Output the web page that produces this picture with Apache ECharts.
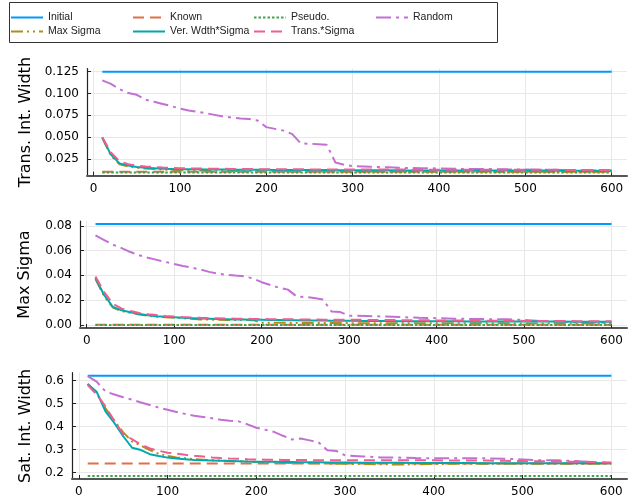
<!DOCTYPE html>
<html>
<head>
<meta charset="utf-8">
<script src="https://cdn.jsdelivr.net/npm/echarts@6/dist/echarts.min.js"></script>
<style>
  html, body { margin: 0; padding: 0; background: #fff; }
  #chart { width: 639px; height: 498px; }
</style>
</head>
<body>
<div id="chart"></div>
<script>
// budget steps (shared x values)
const steps = [10, 20, 30, 40, 50, 60, 70, 80, 90, 100, 110, 120, 130, 140, 150, 160, 170, 180, 190, 200,
  210, 220, 230, 240, 250, 260, 270, 280, 290, 300, 320, 340, 360, 380, 400, 420, 440, 460, 480, 500,
  520, 540, 560, 580, 600];

// constant series, one level per panel
const initialLevel = [0.125, 0.0814, 0.6216];
const knownLevel = [0.0105, 0.0002, 0.239];
const pseudoLevel = [0.0095, 0.0, 0.185];

// panel 1: Trans. Int. Width
const random1 = [0.115, 0.111, 0.105, 0.1005, 0.0985, 0.093, 0.0905, 0.088, 0.0855, 0.0828, 0.0805, 0.079, 0.0775, 0.0755, 0.0735, 0.0725, 0.0715, 0.0708, 0.069, 0.0615,
  0.0595, 0.0575, 0.0535, 0.0428, 0.0425, 0.042, 0.0412, 0.021, 0.0185, 0.0168, 0.0162, 0.0155, 0.0148, 0.0145, 0.0142, 0.0138, 0.0135, 0.0135, 0.0132, 0.013,
  0.0128, 0.0125, 0.0122, 0.012, 0.0118];
const maxSigma1 = [0.049, 0.029, 0.019, 0.0165, 0.015, 0.0142, 0.0135, 0.013, 0.0126, 0.0122, 0.012, 0.0118, 0.0116, 0.0115, 0.0114, 0.0113, 0.0112, 0.0112, 0.0111, 0.011,
  0.011, 0.011, 0.0109, 0.0109, 0.0109, 0.0108, 0.0108, 0.0108, 0.0108, 0.0107, 0.0107, 0.0107, 0.0107, 0.0106, 0.0106, 0.0106, 0.0106, 0.0106, 0.0105, 0.0105,
  0.0105, 0.0105, 0.0105, 0.0104, 0.0104];
const verWidth1 = [0.0497, 0.030, 0.020, 0.0175, 0.0158, 0.015, 0.0145, 0.014, 0.0137, 0.0134, 0.0133, 0.0132, 0.0131, 0.013, 0.0129, 0.0128, 0.0128, 0.0127, 0.0127, 0.0126,
  0.0125, 0.0125, 0.0124, 0.0124, 0.0123, 0.0123, 0.0123, 0.0122, 0.0122, 0.0122, 0.0121, 0.0121, 0.012, 0.012, 0.012, 0.0119, 0.0119, 0.0119, 0.0118, 0.0118,
  0.0118, 0.0117, 0.0117, 0.0117, 0.0116];
const transSigma1 = [0.050, 0.0325, 0.0225, 0.019, 0.0175, 0.0165, 0.0158, 0.0152, 0.0148, 0.0145, 0.0143, 0.0141, 0.014, 0.0139, 0.0138, 0.0137, 0.0136, 0.0135, 0.0134, 0.0134,
  0.0133, 0.0133, 0.0132, 0.0132, 0.0131, 0.0131, 0.0131, 0.013, 0.013, 0.013, 0.0129, 0.0129, 0.0129, 0.0128, 0.0128, 0.0128, 0.0127, 0.0127, 0.0127, 0.0126,
  0.0126, 0.0126, 0.0125, 0.0125, 0.0125];

// panel 2: Max Sigma
const random2 = [0.0723, 0.0685, 0.0647, 0.062, 0.0588, 0.0562, 0.0542, 0.0525, 0.0508, 0.0492, 0.0476, 0.0462, 0.0447, 0.0428, 0.0413, 0.0405, 0.0398, 0.0393, 0.0375, 0.0345,
  0.0322, 0.030, 0.0285, 0.023, 0.0225, 0.0218, 0.0205, 0.0108, 0.0104, 0.0075, 0.0072, 0.0068, 0.0063, 0.0058, 0.0055, 0.0051, 0.0048, 0.0047, 0.0046, 0.004,
  0.0032, 0.0026, 0.0022, 0.002, 0.0018];
const maxSigma2 = [0.037, 0.023, 0.014, 0.0112, 0.0098, 0.0084, 0.0074, 0.0067, 0.0062, 0.0058, 0.0054, 0.005, 0.0045, 0.0043, 0.0042, 0.0041, 0.004, 0.004, 0.0039, 0.0018,
  0.0018, 0.0017, 0.0017, 0.0016, 0.0016, 0.0016, 0.0015, 0.0015, 0.0015, 0.0015, 0.0014, 0.0014, 0.0014, 0.0014, 0.0013, 0.0013, 0.0013, 0.0013, 0.0013, 0.0012,
  0.0012, 0.0012, 0.0012, 0.0012, 0.0012];
const verWidth2 = [0.0379, 0.024, 0.0145, 0.0118, 0.0103, 0.0088, 0.0078, 0.0071, 0.0066, 0.0062, 0.0058, 0.0055, 0.0052, 0.005, 0.0048, 0.0047, 0.0045, 0.0044, 0.0043, 0.0042,
  0.0041, 0.004, 0.0039, 0.0038, 0.0037, 0.0036, 0.0036, 0.0035, 0.0035, 0.0034, 0.0033, 0.0032, 0.0031, 0.0031, 0.003, 0.003, 0.0029, 0.0029, 0.0028, 0.0028,
  0.0027, 0.0027, 0.0026, 0.0026, 0.0025];
const transSigma2 = [0.039, 0.0265, 0.017, 0.0132, 0.0112, 0.0097, 0.0087, 0.008, 0.0073, 0.0068, 0.0064, 0.0061, 0.0058, 0.0056, 0.0054, 0.0052, 0.0051, 0.005, 0.0049, 0.0048,
  0.0047, 0.0046, 0.0046, 0.0045, 0.0044, 0.0044, 0.0043, 0.0043, 0.0042, 0.0042, 0.0041, 0.004, 0.0039, 0.0038, 0.0037, 0.0036, 0.0035, 0.0035, 0.0034, 0.0033,
  0.0033, 0.0032, 0.0031, 0.0031, 0.003];

// panel 3: Sat. Int. Width
const random3 = [0.620, 0.596, 0.553, 0.540, 0.528, 0.517, 0.505, 0.494, 0.483, 0.473, 0.464, 0.455, 0.447, 0.442, 0.436, 0.430, 0.426, 0.423, 0.410, 0.395,
  0.386, 0.377, 0.360, 0.344, 0.348, 0.340, 0.332, 0.297, 0.294, 0.275, 0.270, 0.266, 0.265, 0.263, 0.262, 0.262, 0.262, 0.262, 0.260, 0.257,
  0.253, 0.253, 0.250, 0.245, 0.240];
const maxSigma3 = [0.586, 0.545, 0.480, 0.425, 0.375, 0.335, 0.318, 0.298, 0.282, 0.272, 0.266, 0.262, 0.258, 0.256, 0.254, 0.252, 0.250, 0.249, 0.248, 0.246,
  0.245, 0.244, 0.243, 0.242, 0.241, 0.240, 0.240, 0.239, 0.238, 0.238, 0.237, 0.236, 0.235, 0.236, 0.237, 0.238, 0.238, 0.238, 0.238, 0.238,
  0.238, 0.238, 0.238, 0.238, 0.238];
const verWidth3 = [0.586, 0.552, 0.466, 0.416, 0.358, 0.308, 0.298, 0.280, 0.272, 0.265, 0.261, 0.258, 0.255, 0.253, 0.252, 0.251, 0.250, 0.249, 0.248, 0.2475,
  0.247, 0.247, 0.246, 0.246, 0.245, 0.245, 0.245, 0.244, 0.244, 0.244, 0.243, 0.243, 0.243, 0.242, 0.242, 0.242, 0.242, 0.241, 0.241, 0.241,
  0.241, 0.240, 0.240, 0.240, 0.240];
const transSigma3 = [0.581, 0.540, 0.488, 0.425, 0.367, 0.345, 0.322, 0.305, 0.295, 0.2865, 0.282, 0.277, 0.273, 0.270, 0.266, 0.263, 0.261, 0.260, 0.258, 0.257,
  0.256, 0.256, 0.255, 0.255, 0.255, 0.254, 0.254, 0.254, 0.253, 0.253, 0.253, 0.253, 0.253, 0.253, 0.253, 0.252, 0.252, 0.252, 0.251, 0.250,
  0.249, 0.248, 0.247, 0.246, 0.244];

const xTicks = [0, 100, 200, 300, 400, 500, 600];
const yTicks = [
  [0.025, 0.05, 0.075, 0.1, 0.125],
  [0, 0.02, 0.04, 0.06, 0.08],
  [0.2, 0.3, 0.4, 0.5, 0.6]
];
const yDigits = [3, 2, 1];
const yTitles = ['Trans. Int. Width', 'Max Sigma', 'Sat. Int. Width'];

const names = ['Initial', 'Known', 'Pseudo.', 'Random', 'Max Sigma', 'Ver. Wdth*Sigma', 'Trans.*Sigma'];
const colors = ['#009AFA', '#E26F46', '#3EA44E', '#C271D2', '#AC8E18', '#00A9AD', '#ED5E93'];
const dashes = ['solid', [11, 6], [2.5, 2], [15, 5, 3, 5], [12, 4, 2, 4, 2, 4], 'solid', [11, 6]];

const panelCurves = [
  [random1, maxSigma1, verWidth1, transSigma1],
  [random2, maxSigma2, verWidth2, transSigma2],
  [random3, maxSigma3, verWidth3, transSigma3]
];

const gridTop = [68.6, 221, 372.7];
const gridLeft = [87, 80, 72];
const nameGaps = [51, 47, 38];
const tickFont = 'DejaVu Sans';

var myChart = echarts.init(document.getElementById('chart'));

var grids = [], xAxes = [], yAxes = [], series = [];
for (let p = 0; p < 3; p++) {
  let all = [initialLevel[p], knownLevel[p], pseudoLevel[p]];
  panelCurves[p].forEach(a => { all = all.concat(a); });
  let lo = Math.min.apply(null, all), hi = Math.max.apply(null, all);
  let pad = 0.03 * (hi - lo);

  grids.push({ left: gridLeft[p], right: 12, top: gridTop[p], height: 107, containLabel: false });
  xAxes.push({
    type: 'value', gridIndex: p, min: -7.7, max: 617.7,
    axisLine: { show: true, onZero: false, lineStyle: { color: '#555', width: 2 } },
    axisTick: { show: true, inside: true, length: 4, customValues: xTicks, lineStyle: { color: '#222' } },
    axisLabel: { customValues: xTicks, color: '#000', fontSize: 12, fontFamily: tickFont, margin: 7 },
    splitLine: { show: true, lineStyle: { color: '#e8e8e8', width: 1 } }
  });
  yAxes.push({
    type: 'value', gridIndex: p, min: lo - pad, max: hi + pad,
    name: yTitles[p], nameLocation: 'middle', nameGap: nameGaps[p],
    nameTextStyle: { fontSize: 16, fontFamily: tickFont, color: '#000' },
    axisLine: { show: true, onZero: false, lineStyle: { color: '#222', width: 1.2 } },
    axisTick: { show: true, inside: true, length: 4, customValues: yTicks[p], lineStyle: { color: '#222' } },
    axisLabel: {
      customValues: yTicks[p], color: '#000', fontSize: 12, fontFamily: tickFont, margin: 8,
      formatter: v => Number(v).toFixed(yDigits[p])
    },
    splitLine: { show: true, lineStyle: { color: '#e8e8e8', width: 1 } }
  });

  const levels = [initialLevel[p], knownLevel[p], pseudoLevel[p]];
  const last = steps[steps.length - 1];
  for (let s = 0; s < names.length; s++) {
    let data;
    if (s < 3) {
      data = [[steps[0], levels[s]], [last, levels[s]]];
    } else {
      data = steps.map((x, i) => [x, panelCurves[p][s - 3][i]]);
    }
    series.push({
      name: names[s], type: 'line', xAxisIndex: p, yAxisIndex: p,
      data: data, symbol: 'none', showSymbol: false,
      color: colors[s],
      lineStyle: { color: colors[s], width: 2, type: dashes[s] },
      z: 2 + s
    });
  }
}

// legend items placed in a 4-column grid
const legendCols = [10, 132, 253, 375];
const legendRows = [12, 26];
var legends = names.map((n, i) => {
  let col, row;
  if (i < 4) { col = i; row = 0; } else { col = i - 4; row = 1; }
  return {
    data: [n], left: legendCols[col], top: legendRows[row],
    itemWidth: 32, itemHeight: 8, padding: 0,
    itemStyle: { opacity: 0 },
    textStyle: { fontSize: 10.5, fontFamily: 'Liberation Sans', color: '#222' }
  };
});

var option = {
  animation: false,
  backgroundColor: '#fff',
  legend: legends,
  grid: grids,
  xAxis: xAxes,
  yAxis: yAxes,
  series: series,
  graphic: [{
    type: 'rect', silent: true, z: -1,
    shape: { x: 9.5, y: 2.5, width: 488, height: 40 },
    style: { fill: '#fff', stroke: '#333', lineWidth: 1 }
  }]
};

myChart.setOption(option);
</script>
</body>
</html>
